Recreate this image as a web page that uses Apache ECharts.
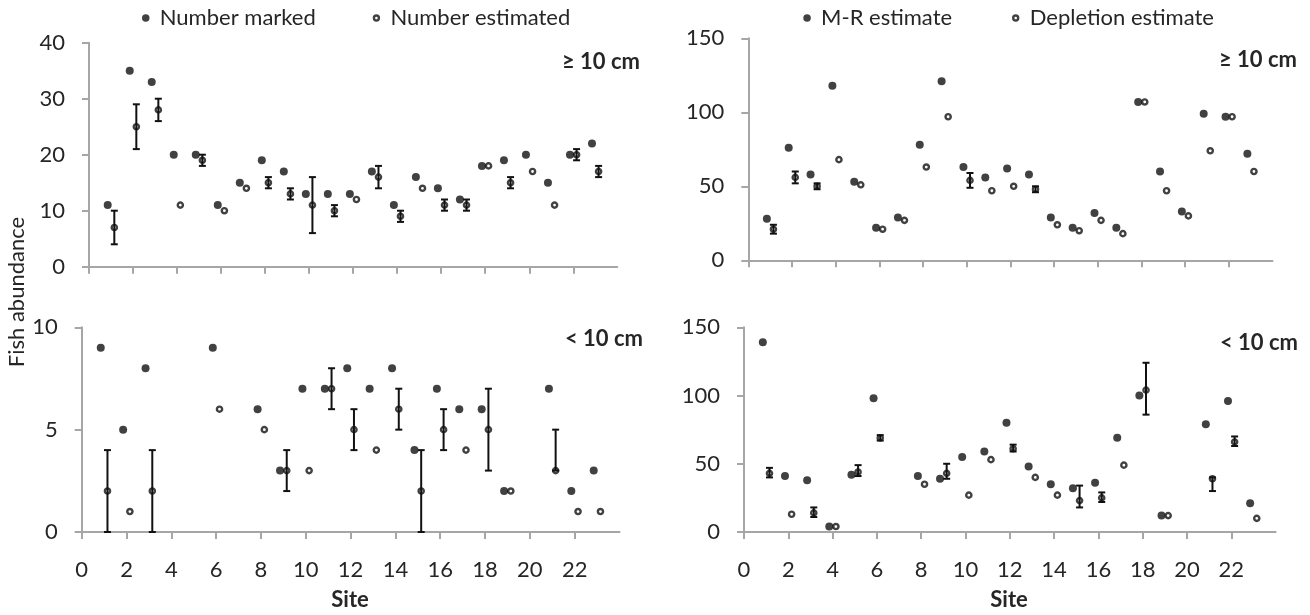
<!DOCTYPE html>
<html>
<head>
<meta charset="utf-8">
<script src="https://cdn.jsdelivr.net/npm/echarts@6/dist/echarts.min.js"></script>
<style>
  html, body { margin: 0; padding: 0; background: #ffffff; }
  #chart { width: 1310px; height: 615px; }
</style>
</head>
<body>
<div id="chart"></div>
<script>
// Sampling sites along the x axis
const sites = [1, 2, 3, 4, 5, 6, 7, 8, 9, 10, 11, 12, 13, 14, 15, 16, 17, 18, 19, 20, 21, 22, 23];
const siteTicks = [0, 2, 4, 6, 8, 10, 12, 14, 16, 18, 20, 22];

// Fish >= 10 cm: number marked vs. number estimated (with bounds)
const largeMarked    = [11, 35, 33, 20, 20, 11, 15, 19, 17, 13, 13, 13, 17, 11, 16, 14, 12, 18, 19, 20, 15, 20, 22];
const largeEstimated = [7, 25, 28, 11, 19, 10, 14, 15, 13, 11, 10, 12, 16, 9, 14, 11, 11, 18, 15, 17, 11, 20, 17];
const largeEstLow    = [4, 21, 26, null, 18, null, null, 14, 12, 6, 9, null, 14, 8, null, 10, 10, null, 14, null, null, 19, 16];
const largeEstHigh   = [10, 29, 30, null, 20, null, null, 16, 14, 16, 11, null, 18, 10, null, 12, 12, null, 16, null, null, 21, 18];

// Fish < 10 cm: number marked vs. number estimated (with bounds)
const smallMarked    = [9, 5, 8, null, null, 9, null, 6, 3, 7, 7, 8, 7, 8, 4, 7, 6, 6, 2, null, 7, 2, 3];
const smallEstimated = [2, 1, 2, null, null, 6, null, 5, 3, 3, 7, 5, 4, 6, 2, 5, 4, 5, 2, null, 3, 1, 1];
const smallEstLow    = [0, null, 0, null, null, null, null, null, 2, null, 6, 4, null, 5, 0, 4, null, 3, null, null, 3, null, null];
const smallEstHigh   = [4, null, 4, null, null, null, null, null, 4, null, 8, 6, null, 7, 4, 6, null, 7, null, null, 5, null, null];

// Fish >= 10 cm: mark-recapture vs. depletion estimates
const largeMR        = [28, 76, 58, 118, 53, 22, 29, 78, 121, 63, 56, 62, 58, 29, 22, 32, 22, 107, 60, 33, 99, 97, 72];
const largeDepletion = [21, 56, 50, 68, 51, 21, 27, 63, 97, 54, 47, 50, 48, 24, 20, 27, 18, 107, 47, 30, 74, 97, 60];
const largeDepLow    = [18, 52, 48, null, null, null, null, null, null, 49, null, null, 46, null, null, null, null, null, null, null, null, null, null];
const largeDepHigh   = [24, 60, 52, null, null, null, null, null, null, 59, null, null, 50, null, null, null, null, null, null, null, null, null, null];

// Fish < 10 cm: mark-recapture vs. depletion estimates
const smallMR        = [139, 41, 38, 4, 42, 98, null, 41, 39, 55, 59, 80, 48, 35, 32, 36, 69, 100, 12, null, 79, 96, 21];
const smallDepletion = [43, 13, 14, 4, 44, 69, null, 35, 43, 27, 53, 61, 40, 27, 23, 25, 49, 104, 12, null, 39, 66, 10];
const smallDepLow    = [40, null, 11, null, 41, 67, null, null, 39, null, null, 59, null, null, 18, 22, null, 86, null, null, 30, 63, null];
const smallDepHigh   = [47, null, 18, null, 49, 71, null, null, 50, null, null, 64, null, null, 34, 29, null, 124, null, null, 40, 70, null];

// Horizontal shift so the paired markers of one site sit side by side
const SHIFT = 0.15;
const INK = '#111111';
const TEXT = '#262626';
const AXIS = '#a6a6a6';
const FONT = 'Lato';

function points(values, dx) {
  const out = [];
  values.forEach((v, i) => { if (v !== null) out.push([sites[i] + dx, v]); });
  return out;
}
function bounds(low, high, dx) {
  const out = [];
  low.forEach((lo, i) => { if (lo !== null && high[i] !== null) out.push([sites[i] + dx, lo, high[i]]); });
  return out;
}

function renderErrorBar(params, api) {
  const x = api.value(0);
  const top = api.coord([x, api.value(2)]);
  const bot = api.coord([x, api.value(1)]);
  const half = 3.5;
  const style = { stroke: INK, lineWidth: 2 };
  return {
    type: 'group',
    children: [
      { type: 'line', shape: { x1: top[0], y1: top[1], x2: bot[0], y2: bot[1] }, style },
      { type: 'line', shape: { x1: top[0] - half, y1: top[1], x2: top[0] + half, y2: top[1] }, style },
      { type: 'line', shape: { x1: bot[0] - half, y1: bot[1], x2: bot[0] + half, y2: bot[1] }, style }
    ]
  };
}

const grids = [
  { left: 89,    top: 42.7,  width: 528.3, height: 224 },   // top-left
  { left: 748.3, top: 38.3,  width: 524.2, height: 222 },   // top-right
  { left: 81.7,  top: 327.3, width: 537.8, height: 204.7 }, // bottom-left
  { left: 744,   top: 327.3, width: 531.6, height: 204.7 }  // bottom-right
];

function xAxisFor(gridIndex, withLabels) {
  return {
    type: 'value', gridIndex, min: 0, max: 24,
    axisLine: { show: true, lineStyle: { color: AXIS, width: 2 } },
    axisTick: { show: true, length: 7, lineStyle: { color: AXIS, width: 2 }, customValues: siteTicks },
    axisLabel: { show: withLabels, customValues: siteTicks, margin: 27,
                 fontFamily: FONT, fontSize: 22, color: TEXT },
    splitLine: { show: false }
  };
}
function yAxisFor(gridIndex, max, interval) {
  return {
    type: 'value', gridIndex, min: 0, max, interval,
    axisLine: { show: true, lineStyle: { color: AXIS, width: 2 } },
    axisTick: { show: true, length: 7, lineStyle: { color: AXIS, width: 2 } },
    axisLabel: { margin: 24, fontFamily: FONT, fontSize: 22, color: TEXT },
    splitLine: { show: false }
  };
}

const filledStyle = { color: INK };
const openStyle = { color: '#ffffff', borderColor: INK, borderWidth: 2.4 };

function filledSeries(name, idx, values) {
  return { name, type: 'scatter', xAxisIndex: idx, yAxisIndex: idx, symbol: 'circle',
           symbolSize: 8, itemStyle: filledStyle, data: points(values, -SHIFT), z: 2,
           emphasis: { disabled: true } };
}
function openSeries(name, idx, values) {
  return { name, type: 'scatter', xAxisIndex: idx, yAxisIndex: idx, symbol: 'circle',
           symbolSize: 5.2, itemStyle: openStyle, data: points(values, SHIFT), z: 3,
           emphasis: { disabled: true } };
}
function barSeries(idx, low, high) {
  return { type: 'custom', xAxisIndex: idx, yAxisIndex: idx, renderItem: renderErrorBar,
           encode: { x: 0, y: [1, 2] }, data: bounds(low, high, SHIFT), z: 4, clip: false };
}

function legendItem(name, left, open) {
  return {
    left, top: 2, orient: 'horizontal', selectedMode: false,
    itemWidth: 18, itemHeight: open ? 5 : 7.5, itemGap: 0,
    textStyle: { fontFamily: FONT, fontSize: 22, color: TEXT },
    data: [{ name, icon: 'circle', itemStyle: open ? openStyle : filledStyle }]
  };
}

const chart = echarts.init(document.getElementById('chart'), null, { renderer: 'canvas' });
chart.setOption({
  animation: false,
  backgroundColor: '#ffffff',
  grid: grids,
  xAxis: [xAxisFor(0, false), xAxisFor(1, false), xAxisFor(2, true), xAxisFor(3, true)],
  yAxis: [yAxisFor(0, 40, 10), yAxisFor(1, 150, 50), yAxisFor(2, 10, 5), yAxisFor(3, 150, 50)],
  legend: [
    legendItem('Number marked', 137, false),
    legendItem('Number estimated', 367.7, true),
    legendItem('M-R estimate', 798.3, false),
    legendItem('Depletion estimate', 1007, true)
  ],
  graphic: [
    { type: 'text', x: 17, y: 292, rotation: Math.PI / 2,
      style: { text: 'Fish abundance', align: 'center', verticalAlign: 'middle',
               font: '22px ' + FONT, fill: TEXT } },
    { type: 'text', x: 640, y: 62, style: { text: '\u2265 10 cm', align: 'right', verticalAlign: 'middle', font: 'bold 22px ' + FONT, fill: TEXT } },
    { type: 'text', x: 1297, y: 60, style: { text: '\u2265 10 cm', align: 'right', verticalAlign: 'middle', font: 'bold 22px ' + FONT, fill: TEXT } },
    { type: 'text', x: 643, y: 339, style: { text: '< 10 cm', align: 'right', verticalAlign: 'middle', font: 'bold 22px ' + FONT, fill: TEXT } },
    { type: 'text', x: 1298, y: 343, style: { text: '< 10 cm', align: 'right', verticalAlign: 'middle', font: 'bold 22px ' + FONT, fill: TEXT } },
    { type: 'text', x: 350, y: 600, style: { text: 'Site', align: 'center', verticalAlign: 'middle', font: 'bold 22px ' + FONT, fill: TEXT } },
    { type: 'text', x: 1009, y: 600, style: { text: 'Site', align: 'center', verticalAlign: 'middle', font: 'bold 22px ' + FONT, fill: TEXT } }
  ],
  series: [
    filledSeries('Number marked', 0, largeMarked),
    openSeries('Number estimated', 0, largeEstimated),
    barSeries(0, largeEstLow, largeEstHigh),

    filledSeries('M-R estimate', 1, largeMR),
    openSeries('Depletion estimate', 1, largeDepletion),
    barSeries(1, largeDepLow, largeDepHigh),

    filledSeries('Number marked', 2, smallMarked),
    openSeries('Number estimated', 2, smallEstimated),
    barSeries(2, smallEstLow, smallEstHigh),

    filledSeries('M-R estimate', 3, smallMR),
    openSeries('Depletion estimate', 3, smallDepletion),
    barSeries(3, smallDepLow, smallDepHigh)
  ]
});
</script>
</body>
</html>
